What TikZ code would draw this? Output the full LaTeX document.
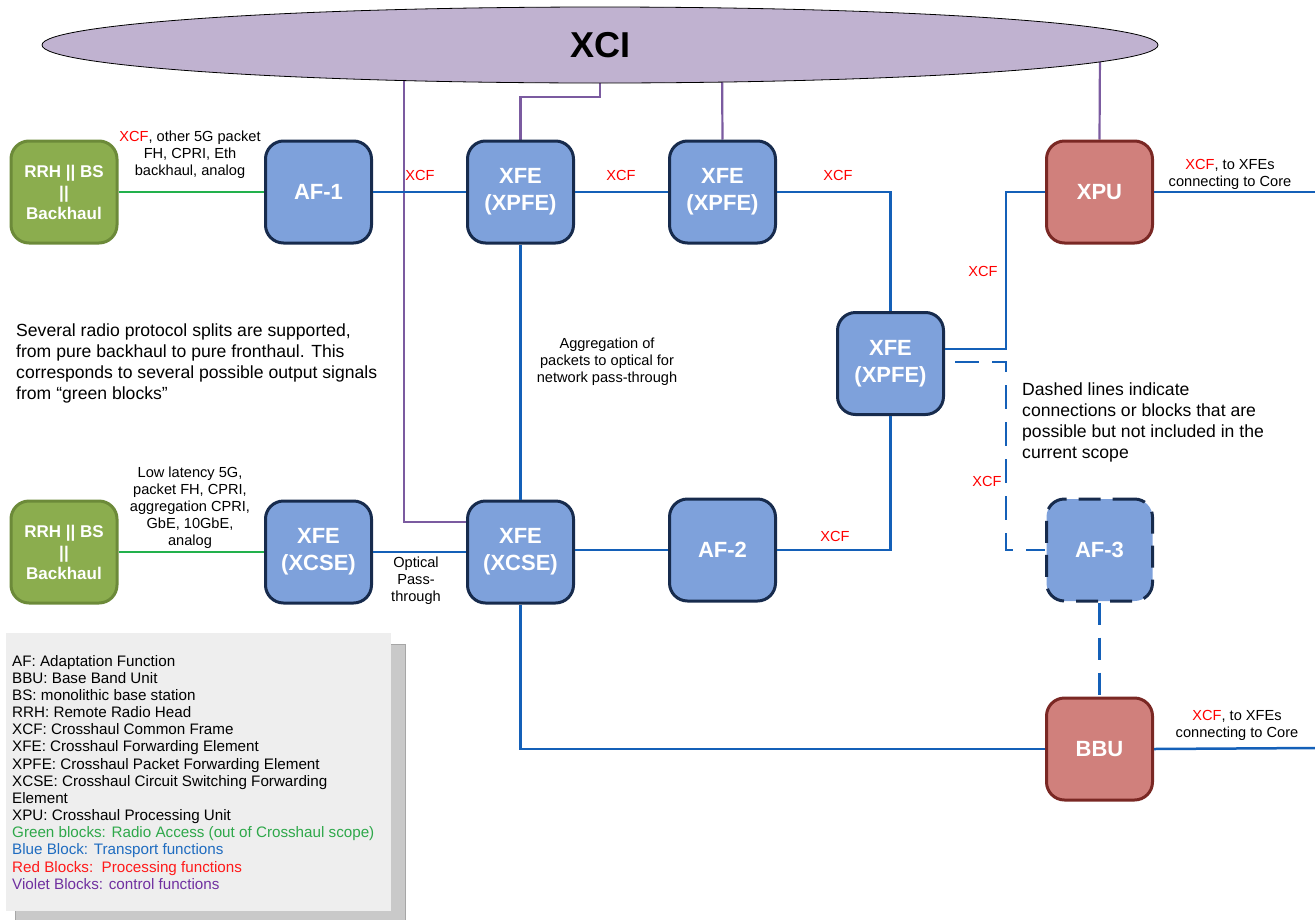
\documentclass[tikz,border=0pt]{standalone}
\usepackage{fontspec}
\setmainfont{Liberation Sans}
\usetikzlibrary{calc,backgrounds,shapes.geometric}
\definecolor{boxblue}{HTML}{7EA1DB}
\definecolor{navyedge}{HTML}{172B4D}
\definecolor{lineblue}{HTML}{1460B8}
\definecolor{boxgreen}{HTML}{8BAD4E}
\definecolor{greenedge}{HTML}{6C8A39}
\definecolor{linegreen}{HTML}{22B14C}
\definecolor{boxred}{HTML}{D0807C}
\definecolor{rededge}{HTML}{7A2824}
\definecolor{xcifill}{HTML}{C0B2D0}
\definecolor{ctlviolet}{HTML}{7B5BA0}
\definecolor{legfill}{HTML}{EEEEEE}
\definecolor{legshadow}{HTML}{C9C9C9}
\definecolor{leggreen}{HTML}{2EA84A}
\definecolor{legblue}{HTML}{1F6CC0}
\definecolor{legred}{HTML}{FF1A1A}
\definecolor{legviolet}{HTML}{7030A0}
\tikzset{
  blk/.style={rounded corners=18pt, line width=3pt, minimum width=106pt, minimum height=102pt,
    text=white, font=\fontsize{22}{27}\selectfont\bfseries, align=center, inner sep=0pt},
  bluebox/.style={blk, fill=boxblue, draw=navyedge},
  greenbox/.style={blk, fill=boxgreen, draw=greenedge, font=\fontsize{17}{21}\selectfont\bfseries},
  redbox/.style={blk, fill=boxred, draw=rededge},
  link/.style={draw=lineblue, line width=2.5pt},
  optlink/.style={link, dash pattern=on 24pt off 13pt},
  glink/.style={draw=linegreen, line width=2.5pt},
  ctl/.style={draw=ctlviolet, line width=2.2pt},
  xcf/.style={text=red, font=\fontsize{14.6}{17}\selectfont, inner sep=0pt},
  note/.style={font=\fontsize{14.6}{17}\selectfont, align=center, inner sep=0pt},
  bignote/.style={font=\fontsize{17.6}{21}\selectfont, align=left, inner sep=0pt, anchor=west}
}
\begin{document}
\begin{tikzpicture}[x=1pt,y=-1pt]
\useasboundingbox (0,0) rectangle (1315,919);
% legend box
\fill[legshadow, draw=gray!70] (15,644) rectangle (405,925);
\fill[legfill] (6,633) rectangle (391,911);
\node[anchor=north west, align=left, inner sep=0pt, font=\fontsize{15.2}{17.15}\selectfont] (legend) at (12,655) {%
AF: Adaptation Function\\
BBU: Base Band Unit\\
BS: monolithic base station\\
RRH: Remote Radio Head\\
XCF: Crosshaul Common Frame\\
XFE: Crosshaul Forwarding Element\\
XPFE: Crosshaul Packet Forwarding Element\\
XCSE: Crosshaul Circuit Switching Forwarding\\
Element\\
XPU: Crosshaul Processing Unit\\
\textcolor{leggreen}{Green blocks: Radio Access (out of Crosshaul scope)}\\
\textcolor{legblue}{Blue Block: Transport functions}\\
\textcolor{legred}{Red Blocks:\ \ Processing functions}\\
\textcolor{legviolet}{Violet Blocks: control functions}};

% XCI
\node[ellipse, draw=black, line width=0.8pt, fill=xcifill, minimum width=1116pt, minimum height=76pt,
  inner sep=0pt, font=\fontsize{36}{40}\selectfont\bfseries] (xci) at (600,45) {XCI};

% blocks
\node[greenbox] (g1) at (64,192) {RRH || BS\\||\\Backhaul};
\node[bluebox] (af1) at (318.5,192) {AF-1};
\node[bluebox] (xfe1) at (520.5,192) {XFE\\(XPFE)};
\node[bluebox] (xfe2) at (722.5,192) {XFE\\(XPFE)};
\node[redbox] (xpu) at (1099.5,192) {XPU};
\node[bluebox] (xfe3) at (890.5,363.5) {XFE\\(XPFE)};
\node[greenbox] (g2) at (64,552) {RRH || BS\\||\\Backhaul};
\node[bluebox] (xcse1) at (318.5,552) {XFE\\(XCSE)};
\node[bluebox] (xcse2) at (520.5,552) {XFE\\(XCSE)};
\node[bluebox] (af2) at (722.5,550) {AF-2};
\node[bluebox, dash pattern=on 22pt off 12pt] (af3) at (1099.5,550) {AF-3};
\node[redbox] (bbu) at (1099.5,749) {BBU};

\coordinate (coreA) at (1315,192);
\coordinate (coreB) at (1315,748);
\coordinate (v1) at (404,60);
\coordinate (v2) at (600,60);
\coordinate (v3) at (722,60);
\coordinate (v4) at (1100,50);

% control lines (behind the ellipse)
\begin{pgfonlayer}{background}
\draw[ctl] (v1) |- ($(xcse2.west)+(0,-30)$);
\draw[ctl] (v2) -- (600,97) -| (xfe1.north);
\draw[ctl] (v3) -- (xfe2.north);
\draw[ctl] (v4) -- (xpu.north);
\end{pgfonlayer}

% data links
\draw[glink] (g1) -- (af1);
\draw[link] (af1) -- (xfe1);
\draw[link] (xfe1) -- (xfe2);
\draw[link] (xfe2.east) -| (xfe3.north);
\draw[link] ($(xfe3.east)+(0,-14.5)$) -- (1006,349) |- (xpu.west);
\draw[link] (xpu.east) -- (coreA);
\draw[optlink] ($(xfe3.east)+(10,-1.5)$) -- (1006,362) -- (1006,550) -- (af3.west);
\draw[optlink, dash pattern=on 22pt off 13pt] (af3.south) -- (bbu.north);
\draw[link] (xfe1.south) -- (xcse2.north);
\draw[glink] (g2) -- (xcse1);
\draw[link] (xcse1) -- (xcse2);
\draw[link] (af2.west -| xcse2.east) -- (af2.west);
\draw[link] (af2.east) -| (xfe3.south);
\draw[link] (xcse2.south) |- (bbu.west);
\draw[link] (bbu.east) -- (coreB);

% labels
\node[note] (l1) at (190,155) {\textcolor{red}{XCF}, other 5G packet\\FH, CPRI, Eth\\backhaul, analog};
\node[xcf] (x1) at (420,175) {XCF};
\node[xcf] (x2) at (621,175) {XCF};
\node[xcf] (x3) at (838,175) {XCF};
\node[note] (l2) at (1230,174) {\textcolor{red}{XCF}, to XFEs\\connecting to Core};
\node[xcf] (x4) at (983,271) {XCF};
\node[xcf] (x5) at (987,481) {XCF};
\node[xcf] (x6) at (835,536) {XCF};
\node[note] (l3) at (1237,725) {\textcolor{red}{XCF}, to XFEs\\connecting to Core};
\node[note] (l4) at (190,508) {Low latency 5G,\\packet FH, CPRI,\\aggregation CPRI,\\GbE, 10GbE,\\analog};
\node[note] (l5) at (416,581) {Optical\\Pass-\\through};
\node[note] (l6) at (607,362) {Aggregation of\\packets to optical for\\network pass-through};
\node[bignote] (n1) at (16,363) {Several radio protocol splits are supported,\\from pure backhaul to pure fronthaul. This\\corresponds to several possible output signals\\from “green blocks”};
\node[bignote] (n2) at (1022,422) {Dashed lines indicate\\connections or blocks that are\\possible but not included in the\\current scope};
\end{tikzpicture}
\end{document}
